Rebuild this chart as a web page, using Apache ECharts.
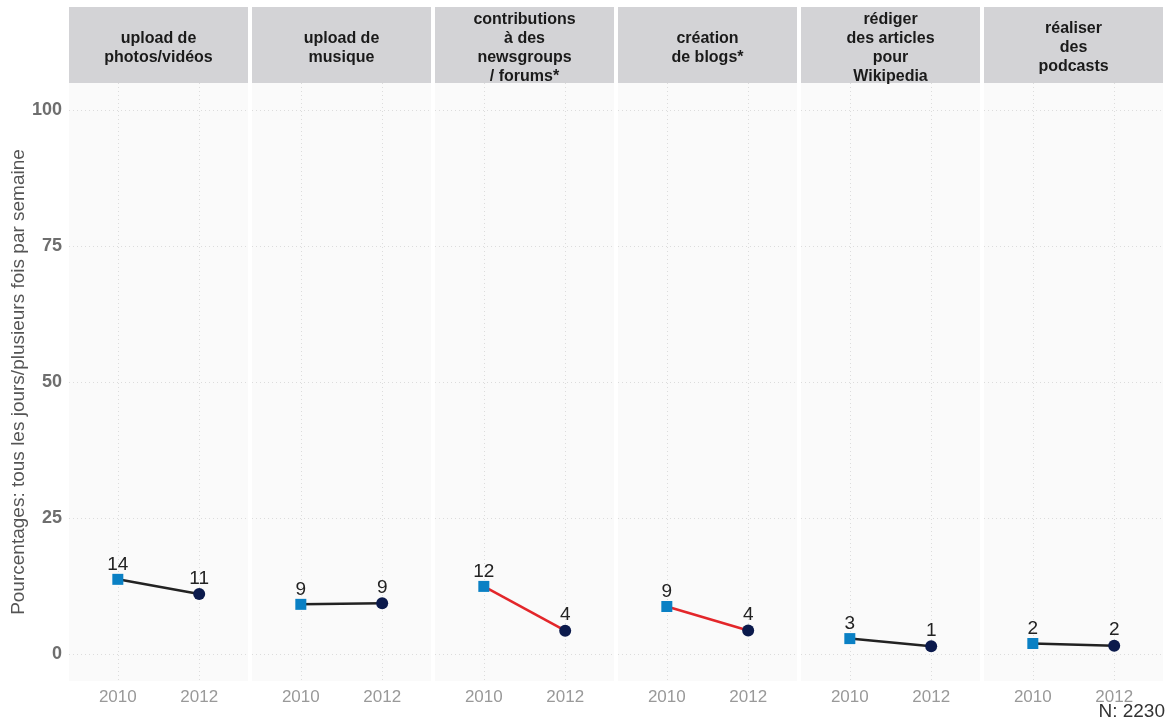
<!DOCTYPE html>
<html><head><meta charset="utf-8">
<script src="https://cdn.jsdelivr.net/npm/echarts@6/dist/echarts.min.js"></script>
<style>html,body{margin:0;padding:0;background:#fff}#c{width:1168px;height:724px}</style>
</head><body><div id="c"></div>
<script>
const panels = ["upload de\nphotos/vidéos", "upload de\nmusique", "contributions\nà des\nnewsgroups\n/ forums*", "création\nde blogs*", "rédiger\ndes articles\npour\nWikipedia", "réaliser\ndes\npodcasts"];
const years = [2010, 2012];
const values2010 = [13.7, 9.1, 12.4, 8.7, 2.8, 1.9];
const values2012 = [11.0, 9.3, 4.25, 4.3, 1.4, 1.5];
const significant = [false, false, true, true, false, false];
const yTicks = [0, 25, 50, 75, 100];
const yTitle = "Pourcentages: tous les jours/plusieurs fois par semaine";
const note = "N: 2230";

const chart = echarts.init(document.getElementById('c'));
const L0 = 69, W = 179, GAP = 4, TOP = 83, BOTTOM = 681, STRIP_TOP = 7;
const grids = [], xAxes = [], yAxes = [], series = [], graphics = [];
const font = 'Liberation Sans, Arial, sans-serif';
panels.forEach((name, i) => {
  const left = L0 + i * (W + GAP);
  grids.push({left: left, top: TOP, width: W, height: BOTTOM - TOP, show: true, backgroundColor: '#fafafa', borderWidth: 0, containLabel: false});
  xAxes.push({type: 'value', gridIndex: i, min: 2008.8, max: 2013.2,
    axisLine: {show: false}, axisTick: {show: false, customValues: years},
    axisLabel: {customValues: years, color: '#999', fontSize: 17, fontFamily: font, margin: 8, formatter: v => String(v)},
    splitLine: {show: true, lineStyle: {color: '#dcdcdc', type: [1, 3], width: 1}}});
  yAxes.push({type: 'value', gridIndex: i, min: -5, max: 105,
    axisLine: {show: false}, axisTick: {show: false, customValues: yTicks},
    axisLabel: {show: i === 0, customValues: yTicks, color: '#6e6e6e', fontSize: 18, fontWeight: 'bold', fontFamily: font, margin: 7},
    splitLine: {show: true, lineStyle: {color: '#dcdcdc', type: [1, 3], width: 1}},
    name: i === 0 ? yTitle : '', nameLocation: 'middle', nameGap: 41, nameRotate: 90,
    nameTextStyle: {color: '#555', fontSize: 19, fontFamily: font}});
  const lc = significant[i] ? '#e3262a' : '#222222';
  series.push({type: 'line', xAxisIndex: i, yAxisIndex: i, z: 3,
    lineStyle: {color: lc, width: 2.5},
    data: [
      {value: [years[0], values2010[i]], symbol: 'rect', symbolSize: 11, itemStyle: {color: '#0a80c4'}},
      {value: [years[1], values2012[i]], symbol: 'circle', symbolSize: 12, itemStyle: {color: '#0b1a4c'}}
    ],
    label: {show: true, position: 'top', distance: 0, color: '#222', fontSize: 19, fontFamily: font,
      formatter: p => String(Math.round(p.value[1]))},
    emphasis: {disabled: true}, animation: false
  });
  graphics.push({type: 'rect', shape: {x: left, y: STRIP_TOP, width: W, height: TOP - STRIP_TOP}, style: {fill: '#d3d3d6'}, silent: true});
  graphics.push({type: 'text', x: left + W / 2, y: (STRIP_TOP + TOP) / 2 + 3,
    style: {text: name, fill: '#1a1a1a', font: 'bold 16px ' + font, align: 'center', verticalAlign: 'middle', lineHeight: 19}});
});
graphics.push({type: 'text', right: 3, top: 702, style: {text: note, fill: '#333', font: '19px ' + font}});
chart.setOption({animation: false, grid: grids, xAxis: xAxes, yAxis: yAxes, series: series, graphic: graphics});
</script></body></html>
